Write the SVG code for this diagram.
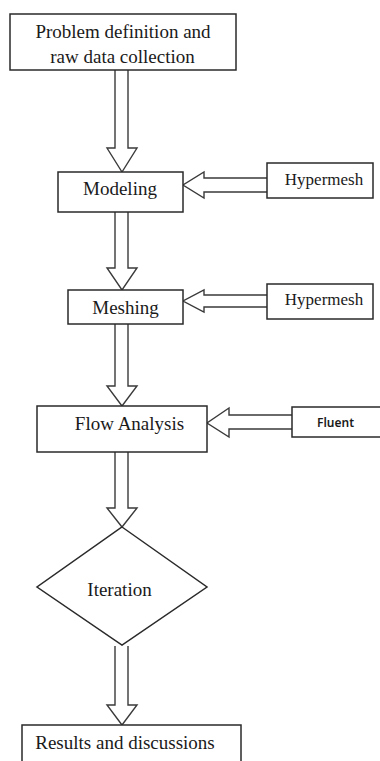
<svg xmlns="http://www.w3.org/2000/svg" width="380" height="761" viewBox="0 0 380 761">
<style>
.box{fill:#fff;stroke:#2a2a2a;stroke-width:1.5}
.arr{fill:#fff;stroke:#3a3a3a;stroke-width:1.4;stroke-linejoin:miter}
.t{font-family:"Liberation Serif","Times New Roman",serif;font-size:19px;fill:#1a1a1a;text-anchor:middle}
.s{font-family:"Liberation Serif","Times New Roman",serif;font-size:17px;fill:#1a1a1a;text-anchor:middle}
.f{font-family:"Noto Sans","Liberation Sans",sans-serif;font-size:12px;font-weight:600;fill:#1a1a1a;text-anchor:middle}
</style>
<rect width="380" height="761" fill="#fff"/>
<g id="connectors">
<path class="arr" d="M115,70 V148 H107 L122,172 L137,148 H128 V70"/>
<path class="arr" d="M115,212 V268 H107 L122,290 L137,268 H128 V212"/>
<path class="arr" d="M115,324 V386 H107 L122,406 L137,386 H128 V324"/>
<path class="arr" d="M115,452 V508 H107 L122,527 L137,508 H128 V452"/>
<path class="arr" d="M115,646 V705 H107 L122,725 L137,705 H128 V646"/>
<path class="arr" d="M267,178 H204 V172 L183,185 L204,198 V192 H267"/>
<path class="arr" d="M267,295 H204 V290 L183,301 L204,312 V307 H267"/>
<path class="arr" d="M292,415 H229 V408 L207,423 L229,437 V429 H292"/>
</g>
<g id="problem">
<rect class="box" x="10" y="14" width="226" height="56"/>
<text class="t" x="123" y="38">Problem definition and</text>
<text class="t" x="122.5" y="63">raw data collection</text>
</g>
<g id="modeling">
<rect class="box" x="58" y="172" width="125" height="40"/>
<text class="t" x="120" y="195">Modeling</text>
</g>
<g id="hypermesh1">
<rect class="box" x="267" y="163" width="106" height="35"/>
<text class="s" x="324" y="185">Hypermesh</text>
</g>
<g id="meshing">
<rect class="box" x="68" y="290" width="115" height="34"/>
<text class="t" x="125.5" y="314">Meshing</text>
</g>
<g id="hypermesh2">
<rect class="box" x="267" y="284" width="106" height="35"/>
<text class="s" x="324" y="305">Hypermesh</text>
</g>
<g id="flow">
<rect class="box" x="37" y="406" width="170" height="46"/>
<text class="t" x="129.5" y="430">Flow Analysis</text>
</g>
<g id="fluent">
<rect class="box" x="292" y="407" width="100" height="30"/>
<text class="f" x="335.5" y="427">Fluent</text>
</g>
<g id="iteration">
<polygon class="box" points="122,527 207,587 122,645 37,587"/>
<text class="t" x="119.5" y="596">Iteration</text>
</g>
<g id="results">
<rect class="box" x="22" y="725" width="219" height="45"/>
<text class="t" x="125" y="749">Results and discussions</text>
</g>
</svg>
